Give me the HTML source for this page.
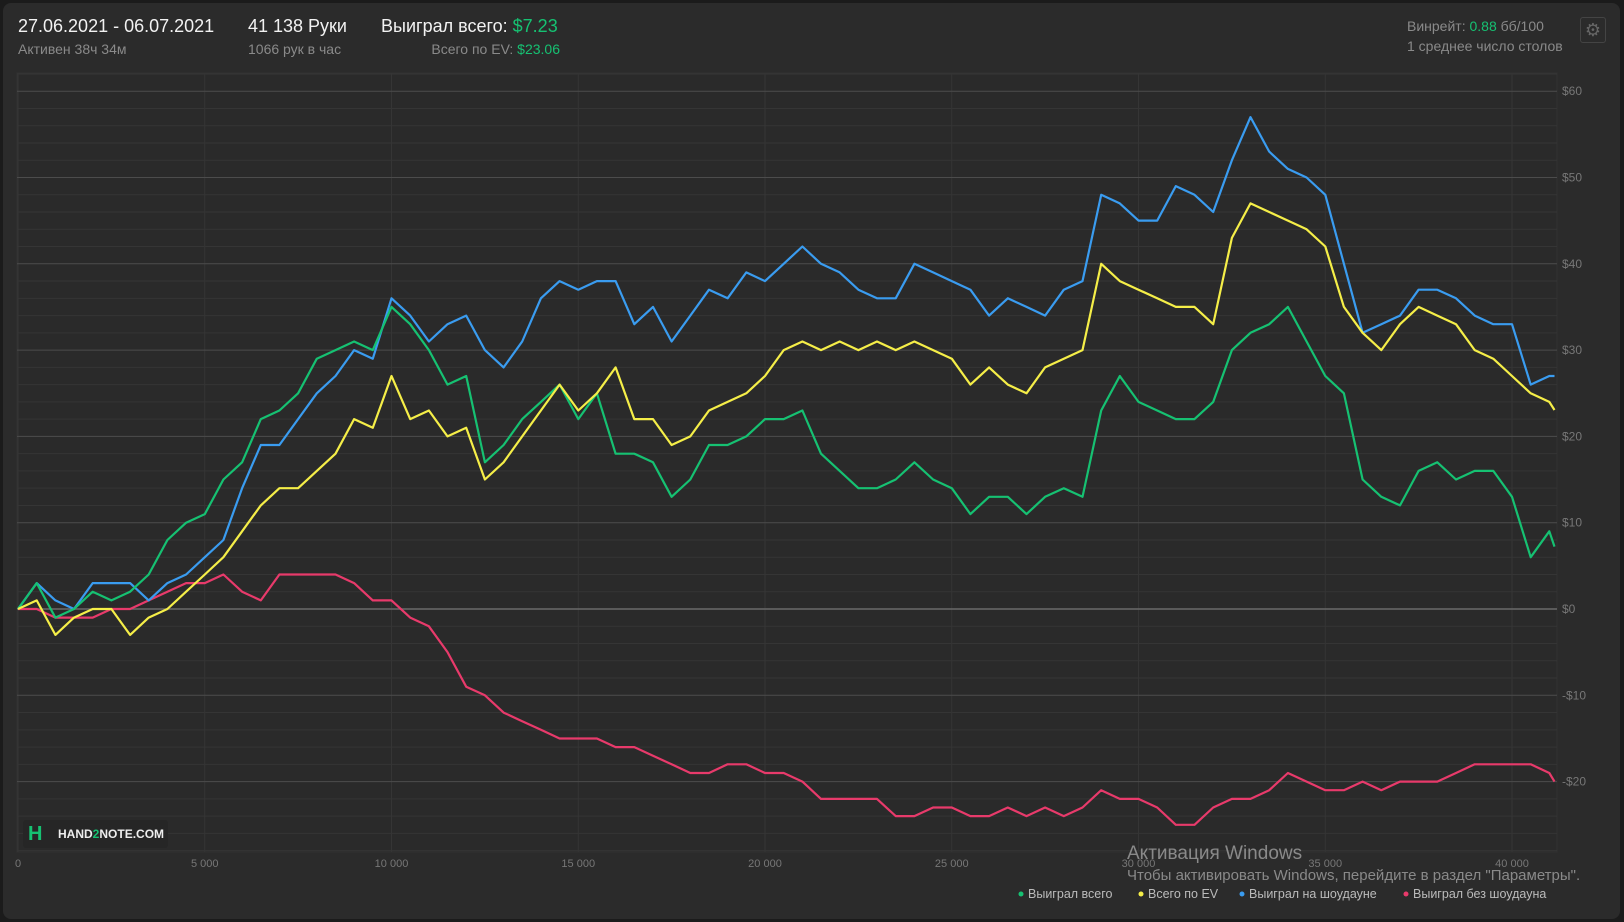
<!DOCTYPE html>
<html><head><meta charset="utf-8"><style>
html,body{margin:0;padding:0;background:#1b1b1b;width:1624px;height:922px;overflow:hidden;font-family:"Liberation Sans","Noto Sans CJK SC",sans-serif}
#card{position:absolute;left:3px;top:3px;width:1617px;height:916px;background:#2b2b2b;border-radius:8px}
.t{position:absolute;white-space:nowrap}
.g{color:#16c172}
</style></head><body>
<div id="card"></div>
<div class="t" style="left:18px;top:16px;font-size:18px;color:#f2f2f2">27.06.2021 - 06.07.2021</div>
<div class="t" style="left:18px;top:41px;font-size:14px;color:#8a8a8a">Активен 38ч 34м</div>
<div class="t" style="left:248px;top:16px;font-size:18px;color:#f2f2f2">41 138 Руки</div>
<div class="t" style="left:248px;top:41px;font-size:14px;color:#8a8a8a">1066 рук в час</div>
<div class="t" style="left:381px;top:16px;font-size:18px;color:#f2f2f2">Выиграл всего: <span class="g">$7.23</span></div>
<div class="t" style="right:1064px;top:41px;font-size:14px;color:#8a8a8a">Всего по EV: <span class="g">$23.06</span></div>
<div class="t" style="left:1407px;top:18px;font-size:14px;color:#8a8a8a">Винрейт: <span class="g">0.88</span> бб/100</div>
<div class="t" style="left:1407px;top:38px;font-size:14px;color:#8a8a8a">1 среднее число столов</div>
<div style="position:absolute;left:1580px;top:17px;width:26px;height:26px;border:1px solid #444;border-radius:3px;box-sizing:border-box;color:#666;font-size:18px;text-align:center;line-height:24px">⚙</div>
<svg id="chart" width="1624" height="922" style="position:absolute;left:0;top:0"></svg>
<div style="position:absolute;left:23px;top:820px;width:145px;height:28px;background:#262626;border-radius:3px">
<span style="position:absolute;left:5px;top:3px;font-size:20px;font-weight:bold;color:#16c172">H</span>
<span style="position:absolute;left:35px;top:7px;font-size:12px;font-weight:bold;color:#eee">HAND<span style="color:#16c172">2</span>NOTE.COM</span></div>
<div class="t" style="left:1127px;top:843px;font-size:19px;color:rgba(170,170,170,0.75)">Активация Windows</div>
<div class="t" style="left:1127px;top:867px;font-size:15px;color:rgba(170,170,170,0.75)">Чтобы активировать Windows, перейдите в раздел "Параметры".</div>
<script>
const hands=[0,500,1000,1500,2000,2500,3000,3500,4000,4500,5000,5500,6000,6500,7000,7500,8000,8500,9000,9500,10000,10500,11000,11500,12000,12500,13000,13500,14000,14500,15000,15500,16000,16500,17000,17500,18000,18500,19000,19500,20000,20500,21000,21500,22000,22500,23000,23500,24000,24500,25000,25500,26000,26500,27000,27500,28000,28500,29000,29500,30000,30500,31000,31500,32000,32500,33000,33500,34000,34500,35000,35500,36000,36500,37000,37500,38000,38500,39000,39500,40000,40500,41000,41138];
const wonTotal=[0,3,-1,0,2,1,2,4,8,10,11,15,17,22,23,25,29,30,31,30,35,33,30,26,27,17,19,22,24,26,22,25,18,18,17,13,15,19,19,20,22,22,23,18,16,14,14,15,17,15,14,11,13,13,11,13,14,13,23,27,24,23,22,22,24,30,32,33,35,31,27,25,15,13,12,16,17,15,16,16,13,6,9,7.23];
const evTotal=[0,1,-3,-1,0,0,-3,-1,0,2,4,6,9,12,14,14,16,18,22,21,27,22,23,20,21,15,17,20,23,26,23,25,28,22,22,19,20,23,24,25,27,30,31,30,31,30,31,30,31,30,29,26,28,26,25,28,29,30,40,38,37,36,35,35,33,43,47,46,45,44,42,35,32,30,33,35,34,33,30,29,27,25,24,23.06];
const wonShowdown=[0,3,1,0,3,3,3,1,3,4,6,8,14,19,19,22,25,27,30,29,36,34,31,33,34,30,28,31,36,38,37,38,38,33,35,31,34,37,36,39,38,40,42,40,39,37,36,36,40,39,38,37,34,36,35,34,37,38,48,47,45,45,49,48,46,52,57,53,51,50,48,40,32,33,34,37,37,36,34,33,33,26,27,27];
const wonNoShowdown=[0,0,-1,-1,-1,0,0,1,2,3,3,4,2,1,4,4,4,4,3,1,1,-1,-2,-5,-9,-10,-12,-13,-14,-15,-15,-15,-16,-16,-17,-18,-19,-19,-18,-18,-19,-19,-20,-22,-22,-22,-22,-24,-24,-23,-23,-24,-24,-23,-24,-23,-24,-23,-21,-22,-22,-23,-25,-25,-23,-22,-22,-21,-19,-20,-21,-21,-20,-21,-20,-20,-20,-19,-18,-18,-18,-18,-19,-20];
const yTicks=[60,50,40,30,20,10,0,-10,-20];
const yTickLabels=["$60","$50","$40","$30","$20","$10","$0","-$10","-$20"];
const xTicks=[0,5000,10000,15000,20000,25000,30000,35000,40000];
const xTickLabels=["0","5 000","10 000","15 000","20 000","25 000","30 000","35 000","40 000"];

const svg=document.getElementById('chart');
const NS='http://www.w3.org/2000/svg';
const X=h=>18+h*1494/40000;
const Y=v=>609-v*8.63;
function mk(tag,attrs){const e=document.createElementNS(NS,tag);for(const k in attrs)e.setAttribute(k,attrs[k]);svg.appendChild(e);return e;}
const bg=mk('rect',{x:17,y:73,width:1540,height:779,fill:'#2a2a2a',stroke:'#323232'});


for(let v=62;v>=-28;v-=2){
  if(v%10===0)continue;
  const l=mk('line',{x1:17,x2:1557,y1:Y(v),y2:Y(v),stroke:'#353535','stroke-width':1});
  
  
}
xTicks.forEach((h,i)=>{
  const l=mk('line',{x1:X(h),x2:X(h),y1:73,y2:852,stroke:'#353535','stroke-width':1});
  
  
  const t=mk('text',{x:X(h),y:867,fill:'#777','font-size':11,'text-anchor':'middle','font-family':'Liberation Sans, sans-serif'});
  t.textContent=xTickLabels[i];
  
  
});
yTicks.forEach((v,i)=>{
  const l=mk('line',{x1:17,x2:1557,y1:Y(v),y2:Y(v),stroke:v===0?'#6a6a6a':'#4c4c4c','stroke-width':v===0?1.5:1});
  
  
  const t=mk('text',{x:1562,y:Y(v)+4,fill:'#777','font-size':12,'font-family':'Liberation Sans, sans-serif'});
  t.textContent=yTickLabels[i];
  
  
});
const series=[[wonNoShowdown,'#e83a6b','line-won-without-showdown'],[wonShowdown,'#3a9cf0','line-won-at-showdown'],[wonTotal,'#16c172','line-won-total'],[evTotal,'#f5ee48','line-ev-total']];
series.forEach(s=>{
  const pts=s[0].map((v,i)=>X(hands[i]).toFixed(1)+','+Y(v).toFixed(1)).join(' ');
  const p=mk('polyline',{points:pts,fill:'none',stroke:s[1],'stroke-width':2.2,'stroke-linejoin':'round'});
  
  
});
const legend=[['Выиграл всего','#16c172'],['Всего по EV','#f5ee48'],['Выиграл на шоудауне','#3a9cf0'],['Выиграл без шоудауна','#e83a6b']];
const legX=[1021,1141,1242,1406];
legend.forEach((l,i)=>{
  const c=mk('circle',{cx:legX[i],cy:894,r:2.5,fill:l[1]});
  
  
  const t=mk('text',{x:legX[i]+7,y:898,fill:'#bbb','font-size':12.5,'font-family':'Liberation Sans, sans-serif'});
  t.textContent=l[0];
  
  
});
</script>
</body></html>
